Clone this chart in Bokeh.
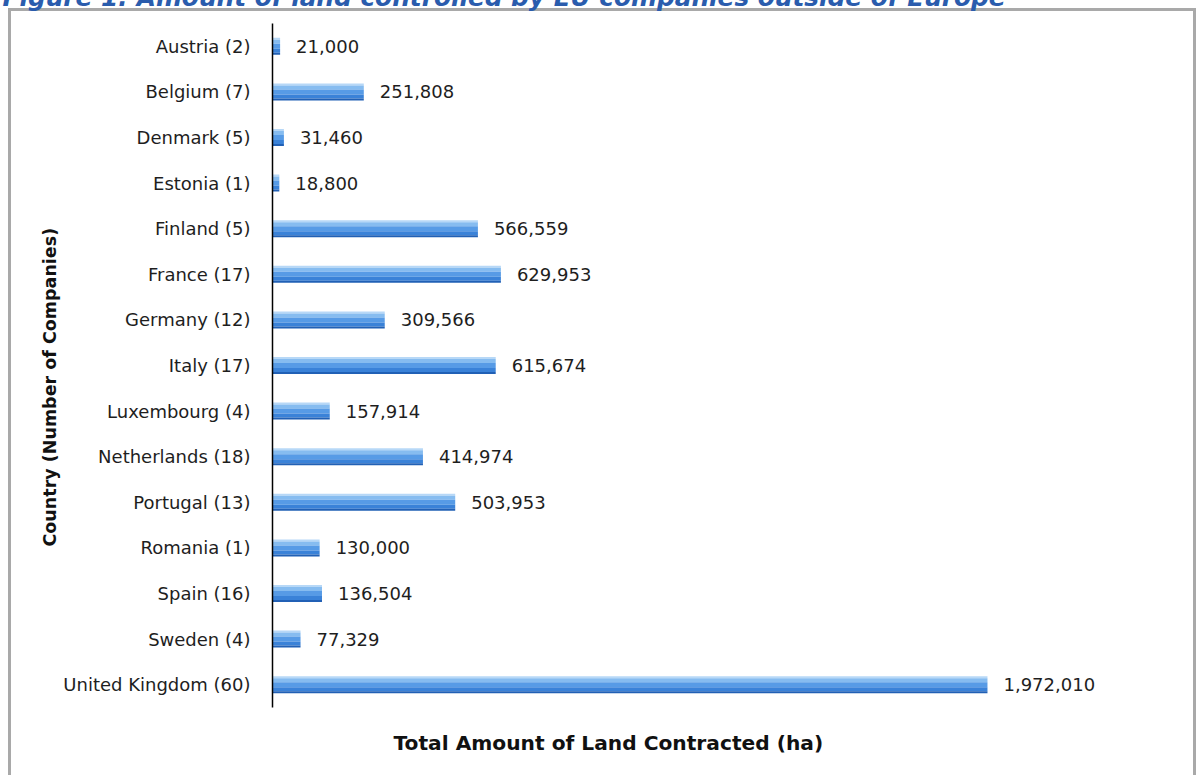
from bokeh.plotting import figure
from bokeh.models import ColumnDataSource, FactorRange, Range1d, Title
from bokeh.transform import dodge
from bokeh.core.properties import value
from bokeh.embed import file_html
from bokeh.resources import INLINE

# ---- data ----
countries = ["Austria (2)", "Belgium (7)", "Denmark (5)", "Estonia (1)", "Finland (5)",
             "France (17)", "Germany (12)", "Italy (17)", "Luxembourg (4)", "Netherlands (18)",
             "Portugal (13)", "Romania (1)", "Spain (16)", "Sweden (4)", "United Kingdom (60)"]
land_ha = [21000, 251808, 31460, 18800, 566559,
           629953, 309566, 615674, 157914, 414974,
           503953, 130000, 136504, 77329, 1972010]
value_labels = ["{:,}".format(v) for v in land_ha]
title_text = "Figure 1: Amount of land controlled by EU companies outside of Europe"
x_title = "Total Amount of Land Contracted (ha)"
y_title = "Country (Number of Companies)"

# ---- layout (canvas pixels; canvas starts SHIFT px above the window) ----
SHIFT = 40
W, H = 1196, 775 + SHIFT
FL, FR, FT, FB = 272, 1190, 23 + SHIFT, 708 + SHIFT

source = ColumnDataSource(dict(country=countries, land=land_ha, label=value_labels))

shadow = ("inset 0 {a}px 0 0 #ffffff, inset 8px 0 0 0 #ffffff, "
          "inset 0 {b}px 0 0 #a9a9a9, inset 11px 0 0 0 #a9a9a9, "
          "inset -3px 0 0 0 #a9a9a9").format(a=8 + SHIFT, b=11 + SHIFT)

p = figure(width=W, height=H,
           y_range=FactorRange(factors=countries[::-1]),
           x_range=Range1d(0, 2532000),
           x_axis_location=None,
           output_backend="svg", toolbar_location=None,
           min_border_left=FL, min_border_right=W - FR,
           min_border_top=FT, min_border_bottom=H - FB,
           styles={"margin-top": "-%dpx" % SHIFT, "box-shadow": shadow})

p.background_fill_color = None
p.border_fill_color = None
p.outline_line_color = None
p.xgrid.visible = False
p.ygrid.visible = False

ax = p.yaxis[0]
ax.axis_line_color = "black"
ax.axis_line_width = 1.5
ax.major_tick_line_color = None
ax.minor_tick_line_color = None
ax.major_tick_out = 0
ax.major_tick_in = 0
ax.major_label_standoff = 22
ax.major_label_text_font = "DejaVu Sans"
ax.major_label_text_font_size = "18px"
ax.major_label_text_color = "#1e1e1e"

# bars drawn as stacked horizontal strips to imitate the glossy gradient
ROW = (FB - FT) / len(countries)  # pixels per category
strips = [  # (top px, bottom px, colour) measured from the bar's top edge
    (0, 2, "#b7d8f7"),
    (2, 6, "#86bcf0"),
    (6, 11, "#579be6"),
    (11, 15, "#3a82d8"),
    (15, 17, "#2160b5"),
]
for top_px, bot_px, col in strips:
    centre = (8.5 - (top_px + bot_px) / 2) / ROW
    p.hbar(y=dodge("country", centre, range=p.y_range), right="land", left=0,
           height=(bot_px - top_px) / ROW, source=source,
           fill_color=col, line_color=None)

p.text(x="land", y="country", text="label", source=source, x_offset=16,
       text_baseline="middle", text_align="left",
       text_font=value("DejaVu Sans"), text_font_size="18px", text_color="#1e1e1e")

# titles in the side panels
p.add_layout(Title(text=title_text, align="left", offset=2 - FL, standoff=24,
                   text_font="DejaVu Sans", text_font_style="bold italic",
                   text_font_size="24.8px", text_color="#2a5cad"), "above")
p.add_layout(Title(text=y_title, align="left", offset=161, standoff=2,
                   text_font="DejaVu Sans", text_font_style="bold",
                   text_font_size="17.5px", text_color="#111111"), "left")
p.add_layout(Title(text=x_title, align="left", offset=121, standoff=42,
                   text_font="DejaVu Sans", text_font_style="bold",
                   text_font_size="20.2px", text_color="#111111"), "below")

open("out.html", "w").write(file_html(p, INLINE))
